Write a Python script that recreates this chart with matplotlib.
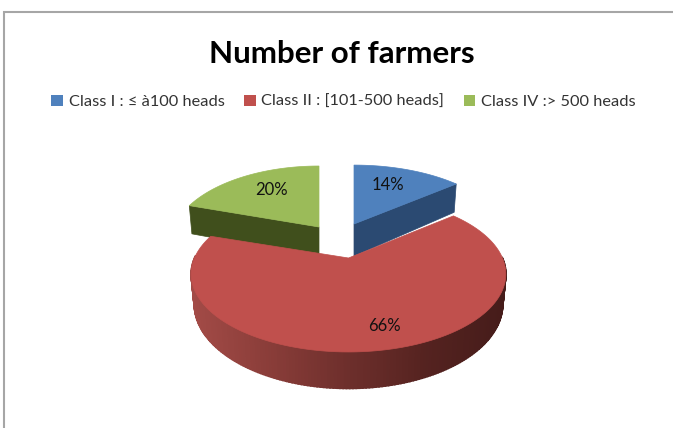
import numpy as np
import matplotlib
matplotlib.use("Agg")
import matplotlib.pyplot as plt
from matplotlib.patches import Patch, Rectangle
from matplotlib.colors import LinearSegmentedColormap

plt.rcParams['font.family'] = ['Lato', 'DejaVu Sans']

# Chart data
title = "Number of farmers"
labels = ["Class I : ≤ à100 heads", "Class II : [101-500 heads]", "Class IV :> 500 heads"]
shares = [14, 66, 20]
colors = ["#4f81bd", "#c0504d", "#9bbb59"]
side_colors = ["#2b4a72", None, "#404f1c"]

# Each slice is pulled out, so it has its own apex and size (pixels)
apex = [(354, 224), (348.5, 258), (319, 227)]
size_x = [150, 154, 145]
size_y = [71, 74.7, 73.5]
depth = [32, 29, 30]
tilt = 0.205   # perspective: far side of the pie looks smaller

# Slice angles, clockwise from 12 o'clock
edges = np.cumsum([0] + shares) / sum(shares) * 2 * np.pi

fig = plt.figure(figsize=(6.73, 4.28), dpi=100)
ax = fig.add_axes([0, 0, 1, 1])
ax.set_xlim(0, 673)
ax.set_ylim(428, 0)
ax.axis('off')

# Chart frame, runs off the right and bottom of the picture
ax.add_patch(Rectangle((4, 12), 700, 450, facecolor='white', edgecolor='#a6a6a6', linewidth=1.5))


def project(i, theta, down=0.0, shrink=1.0):
    u, v = np.sin(theta), np.cos(theta)
    w = 1 + tilt * v
    x = apex[i][0] + shrink * size_x[i] * u / w
    y = apex[i][1] - size_y[i] * v / w + down / w
    return x, y


def draw_slice(i):
    theta = np.linspace(edges[i], edges[i + 1], 240)
    x, y = project(i, theta)

    if side_colors[i] is None:
        # outer wall with a left to right shade, front half only
        xb, yb = project(i, theta, depth[i], 0.98)
        for k in range(len(theta) - 1):
            if np.cos(theta[k]) > 0.02:
                continue
            t = (x[k] - 190) / 315
            ax.fill([x[k], x[k + 1], xb[k + 1], xb[k]],
                    [y[k], y[k + 1], yb[k + 1], yb[k]],
                    color=wall(np.clip(t, 0, 1)), linewidth=1.2, zorder=3)
    else:
        # cut face seen from the front
        j = -1 if i == 0 else 0
        ax_, ay_ = apex[i]
        xb, yb = project(i, theta[j], depth[i], 0.98)
        ax.fill([ax_, x[j], xb, ax_], [ay_, y[j], yb, ay_ + depth[i]],
                color=side_colors[i], linewidth=0.5, zorder=2)

    ax.fill(np.r_[apex[i][0], x], np.r_[apex[i][1], y], color=colors[i], linewidth=0.5,
            zorder=4 if side_colors[i] is None else 2.5)


wall = LinearSegmentedColormap.from_list(
    "wall", ["#a34b47", "#8a3d39", "#6e2f2c", "#552320", "#461c1a"])

for i in [2, 0, 1]:
    draw_slice(i)

# Percent labels
ax.text(388, 185, f"{shares[0]}%", ha='center', va='center', fontsize=12, color='#111111', zorder=6)
ax.text(384, 326, f"{shares[1]}%", ha='center', va='center', fontsize=12, color='#111111', zorder=6)
ax.text(271, 190, f"{shares[2]}%", ha='center', va='center', fontsize=12, color='#111111', zorder=6)

ax.text(341.5, 54, title, ha='center', va='center', fontsize=22.6, fontweight='bold', color='black', zorder=6)

handles = [Patch(facecolor=c, edgecolor='none') for c in colors]
ax.legend(handles, labels, ncols=3, frameon=False, fontsize=11.8, labelcolor='#333333',
          loc='center', bbox_to_anchor=(343.5 / 673, 1 - 102 / 428),
          handlelength=0.7, handleheight=0.7, handletextpad=0.35, columnspacing=1.2)

fig.savefig("out.png", dpi=100, facecolor='white')
